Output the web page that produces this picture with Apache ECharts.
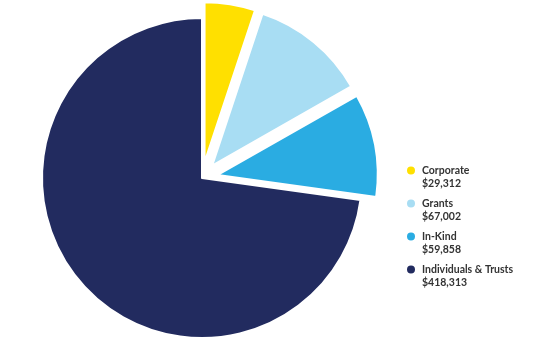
<!DOCTYPE html>
<html><head><meta charset="utf-8">
<script src="https://cdn.jsdelivr.net/npm/echarts@6/dist/echarts.min.js"></script>
<style>html,body{margin:0;padding:0;background:#fff}#c{width:540px;height:356px}</style>
</head><body><div id="c"></div>
<script>
const categories = ['Corporate', 'Grants', 'In-Kind', 'Individuals & Trusts'];
const values = [29312, 67002, 59858, 418313];
const colors = ['#FFE000', '#A8DDF3', '#2AACE2', '#222B5F'];
const exploded = [true, true, true, false];

const chart = echarts.init(document.getElementById('c'));
const fmt = v => '$' + v.toLocaleString('en-US');
const txt = { fontFamily: 'Lato', fontWeight: 'bold', fontSize: 10.5, color: '#333', lineHeight: 13 };
chart.setOption({
  animation: false,
  legend: [{
    orient: 'vertical',
    left: 405,
    top: 164,
    padding: 0,
    icon: 'circle',
    itemWidth: 12,
    itemHeight: 10,
    itemGap: 20,
    selectedMode: false,
    data: categories,
    textStyle: txt
  }, {
    orient: 'vertical',
    left: 405,
    top: 177,
    padding: 0,
    icon: 'circle',
    itemWidth: 12,
    itemHeight: 10,
    itemGap: 20,
    selectedMode: false,
    itemStyle: { opacity: 0 },
    data: categories,
    formatter: name => fmt(values[categories.indexOf(name)]),
    textStyle: txt
  }],
  series: [{
    type: 'pie',
    center: [202, 178],
    radius: [0, 160],
    startAngle: 90,
    clockwise: true,
    selectedMode: 'multiple',
    selectedOffset: 16,
    label: { show: false },
    labelLine: { show: false },
    itemStyle: { borderColor: '#fff', borderWidth: 2 },
    emphasis: { disabled: true },
    data: categories.map((c, i) => ({
      name: c, value: values[i], selected: exploded[i],
      itemStyle: { color: colors[i] }
    }))
  }]
});
</script></body></html>
